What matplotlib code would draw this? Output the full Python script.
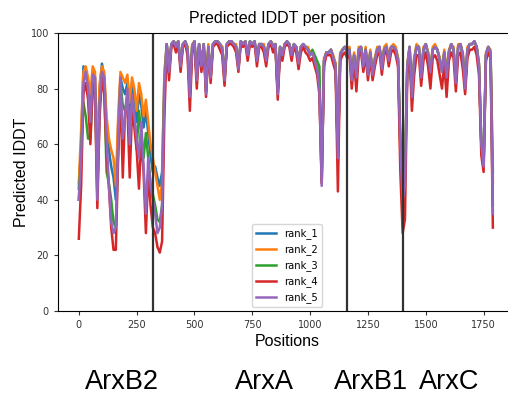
import numpy as np
import matplotlib
matplotlib.use("Agg")
import matplotlib.pyplot as plt

# residue positions (one sample every 10 residues)
positions = np.arange(0, 1800, 10)

# predicted lDDT per model
rank_1 = [
    44, 60, 88, 86, 82, 72, 86, 84, 50, 80,
    89, 84, 66, 58, 52, 48, 40, 66, 84, 80,
    78, 82, 70, 82, 76, 68, 78, 74, 66, 72,
    64, 56, 50, 52, 48, 45, 50, 85,
    96, 87, 96, 97, 96, 97, 89, 96, 97, 95,
    78, 95, 97, 84, 96, 89, 96, 79, 95, 85,
    96, 97, 97, 96, 95, 84, 96, 97, 97, 96,
    95, 88, 97, 96, 97, 92, 97, 96, 97, 91,
    96, 96, 95, 91, 96, 97, 95, 96, 79, 95,
    92, 96, 97, 96, 93, 96, 95, 90, 95, 96,
    95, 94, 93, 93, 91, 88, 82, 47, 90, 93,
    93, 94, 91, 89, 56, 92, 94, 95, 93, 94,
    84, 92, 85, 94, 95, 89, 94, 86, 93, 86,
    91, 94, 95, 88, 94, 95, 91, 95, 95, 94,
    91, 62, 50, 52, 88, 95, 78, 91, 95, 95,
    85, 94, 96, 93, 87, 94, 95, 94, 91, 87,
    93, 85, 93, 96, 94, 83, 95, 96, 92, 81,
    94, 96, 96, 97, 95, 89, 61, 54, 92, 95, 93, 50,
]
rank_2 = [
    46, 65, 86, 88, 84, 78, 88, 86, 55, 82,
    88, 86, 70, 62, 58, 55, 45, 70, 86, 84,
    82, 85, 75, 84, 80, 72, 82, 78, 70, 76,
    68, 60, 55, 50, 45, 40, 46, 85,
    96, 87, 96, 97, 96, 97, 89, 96, 97, 95,
    79, 96, 97, 84, 96, 89, 96, 80, 96, 85,
    96, 97, 97, 96, 95, 84, 96, 97, 97, 96,
    96, 88, 97, 96, 97, 93, 97, 96, 97, 91,
    96, 96, 96, 91, 96, 97, 96, 96, 79, 95,
    93, 96, 97, 96, 93, 96, 95, 90, 95, 96,
    95, 95, 93, 93, 91, 88, 81, 46, 91, 93,
    93, 94, 92, 89, 56, 93, 94, 95, 94, 95,
    84, 93, 85, 95, 95, 89, 95, 86, 94, 86,
    91, 95, 95, 88, 95, 96, 91, 95, 96, 95,
    91, 58, 55, 50, 89, 95, 78, 91, 96, 95,
    85, 95, 96, 93, 87, 95, 96, 94, 91, 87,
    94, 85, 94, 96, 95, 83, 96, 96, 93, 81,
    95, 96, 96, 97, 95, 89, 60, 53, 93, 95, 94, 46,
]
rank_3 = [
    40, 58, 75, 70, 62, 62, 80, 80, 42, 74,
    85, 80, 50, 46, 40, 32, 30, 58, 82, 74,
    72, 78, 62, 76, 70, 58, 72, 64, 55, 64,
    55, 46, 42, 38, 33, 32, 38, 80,
    96, 86, 96, 97, 95, 97, 88, 96, 97, 94,
    78, 95, 97, 83, 96, 88, 96, 79, 95, 84,
    96, 97, 97, 96, 94, 83, 96, 97, 97, 96,
    95, 87, 97, 96, 97, 92, 97, 96, 97, 90,
    96, 96, 95, 90, 96, 97, 95, 96, 78, 95,
    92, 96, 97, 96, 92, 96, 95, 89, 95, 96,
    95, 94, 92, 94, 92, 90, 88, 50, 90, 93,
    93, 94, 91, 88, 55, 92, 94, 95, 93, 94,
    83, 92, 84, 94, 95, 88, 94, 85, 93, 85,
    90, 94, 95, 87, 94, 95, 90, 95, 95, 94,
    90, 58, 60, 48, 88, 95, 77, 90, 95, 95,
    84, 94, 96, 92, 86, 94, 95, 94, 90, 86,
    93, 84, 93, 96, 94, 82, 95, 96, 92, 80,
    94, 96, 96, 97, 95, 88, 60, 52, 92, 95, 93, 38,
]
rank_4 = [
    26, 45, 78, 82, 76, 60, 82, 78, 37, 70,
    84, 78, 56, 45, 30, 22, 22, 55, 80, 48,
    72, 74, 48, 72, 66, 58, 44, 62, 50, 28,
    50, 38, 30, 28, 23, 21, 25, 70,
    95, 83, 95, 96, 93, 96, 86, 95, 96, 92,
    72, 93, 96, 80, 95, 86, 95, 77, 94, 82,
    95, 96, 96, 94, 92, 81, 95, 96, 96, 95,
    93, 86, 96, 95, 96, 90, 96, 95, 96, 88,
    95, 95, 93, 88, 95, 96, 93, 95, 76, 93,
    90, 95, 96, 95, 90, 95, 93, 87, 93, 95,
    93, 92, 90, 91, 88, 85, 78, 46, 88, 92,
    92, 92, 89, 86, 43, 90, 92, 93, 91, 92,
    80, 90, 79, 92, 93, 86, 92, 83, 91, 83,
    88, 92, 93, 85, 92, 94, 88, 93, 94, 92,
    88, 50, 28, 33, 85, 92, 72, 85, 92, 92,
    81, 90, 93, 88, 80, 91, 92, 90, 85, 80,
    89, 77, 90, 93, 91, 79, 92, 93, 87, 78,
    91, 94, 94, 95, 92, 85, 56, 50, 90, 93, 91, 30,
]
rank_5 = [
    40, 55, 82, 86, 80, 68, 85, 84, 40, 75,
    86, 84, 62, 45, 32, 28, 30, 60, 84, 62,
    70, 80, 60, 78, 70, 62, 55, 68, 52, 35,
    55, 45, 40, 35, 28, 30, 38, 80,
    96, 86, 96, 97, 95, 97, 88, 96, 97, 94,
    77, 95, 97, 83, 96, 88, 96, 78, 95, 84,
    96, 97, 97, 96, 94, 83, 96, 97, 97, 96,
    95, 87, 97, 96, 97, 92, 97, 96, 97, 90,
    96, 96, 95, 90, 96, 97, 95, 96, 78, 95,
    92, 96, 97, 96, 92, 96, 95, 89, 95, 96,
    95, 94, 92, 93, 90, 87, 80, 45, 90, 93,
    93, 94, 91, 88, 55, 92, 94, 95, 93, 94,
    83, 92, 84, 94, 95, 88, 94, 85, 93, 85,
    90, 94, 95, 87, 94, 95, 90, 95, 95, 94,
    90, 60, 40, 45, 88, 95, 77, 90, 95, 95,
    84, 94, 96, 92, 86, 94, 95, 94, 90, 86,
    93, 84, 93, 96, 94, 82, 95, 96, 92, 80,
    94, 96, 96, 97, 95, 88, 60, 52, 92, 95, 93, 35,
]

ranks = ["rank_1", "rank_2", "rank_3", "rank_4", "rank_5"]
series = [rank_1, rank_2, rank_3, rank_4, rank_5]

# chain boundaries and chain names
boundaries = [322, 1160, 1401]
chains = ["ArxB2", "ArxA", "ArxB1", "ArxC"]
chain_x_px = [122, 264, 371, 449]

W, H = 508, 404
fig = plt.figure(figsize=(W / 100, H / 100), dpi=100)
ax = fig.add_axes([58 / W, 1 - 311 / H, (516 - 58) / W, (311 - 33) / H])

for name, vals in zip(ranks, series):
    ax.plot(positions, vals, label=name, linewidth=1.8)

for b in boundaries:
    ax.axvline(b, color="#333333", linewidth=1.6)

ax.set_xlim(-90, 1890)
ax.set_ylim(0, 100)
ax.set_xticks(np.arange(0, 1751, 250))
ax.set_yticks(np.arange(0, 101, 20))
ax.tick_params(labelsize=7, colors="#333333", length=3)

label_font = {"family": "Liberation Sans", "size": 11.5}
ax.set_title("Predicted IDDT per position", fontdict=label_font, pad=7)
ax.set_xlabel("Positions", fontdict=label_font, labelpad=3)
ax.set_ylabel("Predicted IDDT", fontdict=label_font, labelpad=1)

leg = ax.legend(loc="lower center", fontsize=7.2, borderaxespad=0.4)
leg.set_bbox_to_anchor(((287 - 58) / (516 - 58), 0.0), transform=ax.transAxes)

for name, xp in zip(chains, chain_x_px):
    fig.text(xp / W, 1 - 382 / H, name, ha="center", va="center",
             family="Liberation Sans", fontsize=19.5)

fig.savefig("out.png", dpi=100)
